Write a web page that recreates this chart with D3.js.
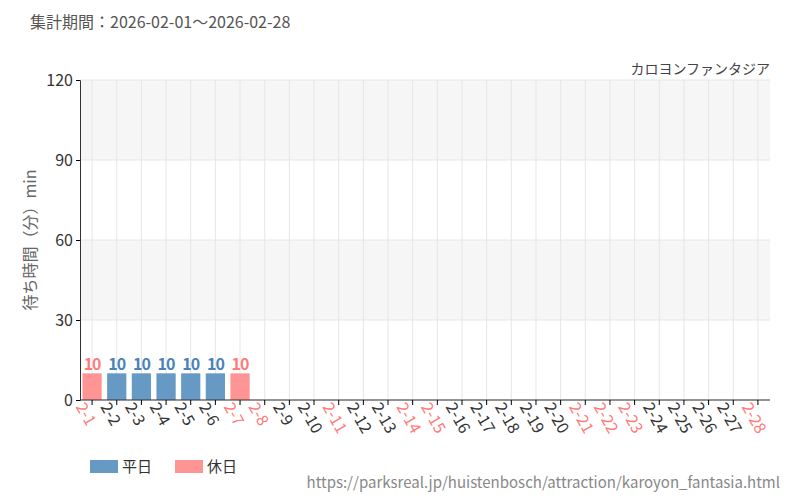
<!DOCTYPE html>
<html><head><meta charset="utf-8">
<script src="https://cdn.jsdelivr.net/npm/d3@7"></script>
<style>body{margin:0;background:#fff;font-family:"Noto Sans CJK JP","Noto Sans",sans-serif}</style>
</head><body><svg id="c" width="800" height="500"></svg>
<script>
const days = d3.range(1,29).map(d=>"2-"+d);
const values = [10,10,10,10,10,10,10];
const holidays = ["2-1","2-7","2-8","2-11","2-14","2-15","2-21","2-22","2-23","2-28"];
const yTicks = [0,30,60,90,120];
const svg = d3.select("#c");
const ff = '"Noto Sans CJK JP","Noto Sans",sans-serif';
const x = d3.scaleBand().domain(days).range([80,770]).paddingInner(0.22).paddingOuter(0.1);
const y = d3.scaleLinear().domain([0,120]).range([400,80]);
const blue="#6699c4", red="#ff9494", blueT="#4a82b8", redT="#ff7b7b";
[[90,120],[30,60]].forEach(([a,b])=>svg.append("rect").attr("x",80).attr("width",690).attr("y",y(b)).attr("height",y(a)-y(b)).attr("fill","#f6f6f6"));
yTicks.forEach(t=>svg.append("line").attr("x1",80).attr("x2",770).attr("y1",y(t)).attr("y2",y(t)).attr("stroke","#e6e6e6"));
days.forEach(d=>svg.append("line").attr("x1",x(d)+x.bandwidth()/2).attr("x2",x(d)+x.bandwidth()/2).attr("y1",80).attr("y2",400).attr("stroke","#e6e6e6"));
values.forEach((v,i)=>{const d=days[i],h=holidays.includes(d);
 svg.append("rect").attr("x",x(d)).attr("width",x.bandwidth()).attr("y",y(v)).attr("height",y(0)-y(v)).attr("fill",h?red:blue);
 svg.append("text").attr("x",x(d)+x.bandwidth()/2).attr("y",y(v)-3).attr("text-anchor","middle").attr("font-size",16).attr("font-weight","bold").attr("letter-spacing","-1").attr("font-family",ff).attr("fill",h?redT:blueT).text(v);
});
const ya=svg.append("g").attr("transform","translate(80,0)").call(d3.axisLeft(y).tickValues(yTicks).tickSize(4));
ya.select(".domain").attr("stroke","#333");
ya.selectAll("text").attr("font-size",16).attr("font-family",ff).attr("fill","#333");
const xa=svg.append("g").attr("transform","translate(0,400)").call(d3.axisBottom(x).tickSize(5));
xa.select(".domain").attr("stroke","#333").attr("d","M80,0H770");
xa.selectAll("text").attr("font-size",16).attr("font-family",ff).attr("text-anchor","start")
 .attr("transform","translate(-5,0) rotate(60)").attr("dy","0.35em").attr("dx","0")
 .attr("fill",d=>holidays.includes(d)?redT:"#333");
svg.append("text").attr("x",30).attr("y",28).attr("font-size",16).attr("font-family",ff).attr("fill","#555").text("集計期間：2026-02-01～2026-02-28");
svg.append("text").attr("x",770).attr("y",74).attr("text-anchor","end").attr("font-size",14).attr("font-family",ff).attr("fill","#444").text("カロヨンファンタジア");
svg.append("text").attr("transform","translate(36,240) rotate(-90)").attr("text-anchor","middle").attr("font-size",16).attr("font-family",ff).attr("fill","#666").text("待ち時間（分）min");
[["平日",blue,90],["休日",red,175]].forEach(([t,c,lx])=>{svg.append("rect").attr("x",lx).attr("y",460).attr("width",28).attr("height",13).attr("fill",c);
 svg.append("text").attr("x",lx+32).attr("y",472).attr("font-size",15).attr("font-family",ff).attr("fill","#333").text(t);});
svg.append("text").attr("x",780).attr("y",488).attr("text-anchor","end").attr("font-size",15).attr("font-family",ff).attr("fill","#888").text("https://parksreal.jp/huistenbosch/attraction/karoyon_fantasia.html");
</script></body></html>
